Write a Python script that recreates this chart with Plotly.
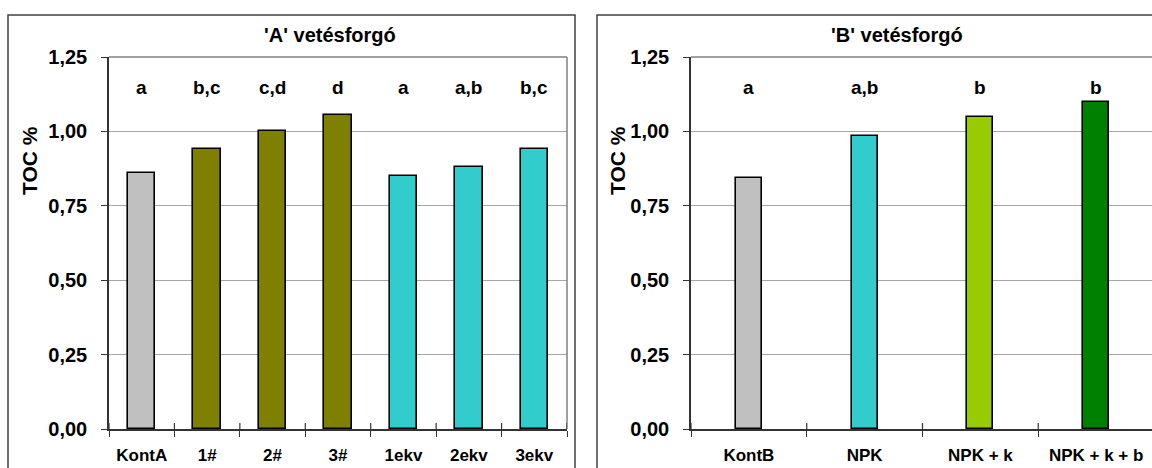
import plotly.graph_objects as go

# ---- data ----
cats_a = ["KontA", "1#", "2#", "3#", "1ekv", "2ekv", "3ekv"]
vals_a = [0.86, 0.94, 1.00, 1.055, 0.85, 0.88, 0.94]
letters_a = ["a", "b,c", "c,d", "d", "a", "a,b", "b,c"]

cats_b = ["KontB", "NPK", "NPK + k", "NPK + k + b"]
vals_b = [0.845, 0.985, 1.048, 1.10]
letters_b = ["a", "a,b", "b", "b"]

y_ticks = [0.0, 0.25, 0.5, 0.75, 1.0, 1.25]
y_ticktext = ["0,00", "0,25", "0,50", "0,75", "1,00", "1,25"]

titles = ["'A' vetésforgó", "'B' vetésforgó"]
y_title = "TOC %"

# ---- styles ----
colors_a = ["#C0C0C0", "#808000", "#808000", "#808000", "#33CCCC", "#33CCCC", "#33CCCC"]
colors_b = ["#C0C0C0", "#33CCCC", "#99CC00", "#008000"]

W, H = 1152, 468
FONT = "Liberation Sans, Arial, sans-serif"
DARK = "#333333"

def px_x(p):
    return p / W

def px_y(p):
    return 1 - p / H

fig = go.Figure()
fig.add_trace(go.Bar(x=cats_a, y=vals_a, width=0.42, xaxis="x", yaxis="y",
                     marker=dict(color=colors_a, line=dict(color="black", width=1.6)),
                     showlegend=False, hoverinfo="x+y"))
fig.add_trace(go.Bar(x=cats_b, y=vals_b, width=0.225, xaxis="x2", yaxis="y2",
                     marker=dict(color=colors_b, line=dict(color="black", width=1.6)),
                     showlegend=False, hoverinfo="x+y"))

Y_TOP, Y_BOT = 57, 429
XA0, XA1 = 109, 567
XB0 = 691
ydom = [px_y(Y_BOT), px_y(Y_TOP)]
xdom_a = [px_x(XA0), px_x(XA1)]
xdom_b = [px_x(XB0), 1.0]
range_b = [-0.5, 3.5 - 2 / 116]

tickfont_x = dict(family=FONT, size=17, color="black", weight="bold")
tickfont_y = dict(family=FONT, size=20, color="black", weight="bold")

def xaxis_cfg(dom, anchor, rng):
    return dict(domain=dom, anchor=anchor, type="category", tickson="boundaries",
                ticks="outside", ticklen=6, tickwidth=1.2, tickcolor=DARK,
                showline=True, linecolor=DARK, linewidth=1.5, showgrid=False,
                zeroline=False, tickfont=tickfont_x, ticklabelstandoff=10,
                fixedrange=True, range=rng, automargin=False)

def yaxis_cfg(anchor):
    return dict(domain=ydom, anchor=anchor, range=[0, 1.25], tickvals=y_ticks,
                ticktext=y_ticktext, ticks="outside", ticklen=6, tickwidth=1.2,
                tickcolor=DARK, showline=True, linecolor=DARK, linewidth=1.5,
                showgrid=True, gridcolor="#A6A6A6", gridwidth=1, zeroline=False,
                tickfont=tickfont_y, ticklabelstandoff=10, fixedrange=True,
                automargin=False)

fig.update_layout(
    width=W, height=H,
    margin=dict(l=0, r=0, t=0, b=0, autoexpand=False),
    paper_bgcolor="white", plot_bgcolor="white",
    bargap=0,
    xaxis=xaxis_cfg(xdom_a, "y", [-0.5, len(cats_a) - 0.5]),
    yaxis=yaxis_cfg("x"),
    xaxis2=xaxis_cfg(xdom_b, "y2", range_b),
    yaxis2=yaxis_cfg("x2"),
)

plot_h = Y_BOT - Y_TOP
border = dict(color="#808080", width=1.5)
shapes = [
    # outer chart boxes
    dict(type="rect", xref="paper", yref="paper", x0=px_x(8), x1=px_x(575),
         y0=-0.05, y1=px_y(15), line=dict(color="#404040", width=1.5)),
    dict(type="rect", xref="paper", yref="paper", x0=px_x(597), x1=1.05,
         y0=-0.05, y1=px_y(15), line=dict(color="#404040", width=1.5)),
    # plot area borders (top and right)
    dict(type="line", xref="paper", yref="paper", x0=px_x(XA0), x1=px_x(XA1),
         y0=px_y(Y_TOP), y1=px_y(Y_TOP), line=border),
    dict(type="line", xref="paper", yref="paper", x0=px_x(XA1), x1=px_x(XA1),
         y0=px_y(Y_BOT), y1=px_y(Y_TOP), line=border),
    dict(type="line", xref="paper", yref="paper", x0=px_x(XB0), x1=1.0,
         y0=px_y(Y_TOP), y1=px_y(Y_TOP), line=border),
]
# upper half of the crossing category-boundary ticks
for xr, yr, n in (("x", "y domain", len(cats_a)), ("x2", "y2 domain", len(cats_b))):
    for i in range(n + 1):
        shapes.append(dict(type="line", xref=xr, yref=yr, x0=i - 0.5, x1=i - 0.5,
                           y0=0, y1=6 / plot_h, line=dict(color=DARK, width=1.2)))
fig.update_layout(shapes=shapes)

annotations = []
bold = dict(family=FONT, color="black", weight="bold")
annotations.append(dict(text=titles[0], x=px_x(330), y=px_y(35), xref="paper", yref="paper",
                        showarrow=False, xanchor="center", yanchor="middle",
                        font=dict(size=20, **bold)))
annotations.append(dict(text=titles[1], x=px_x(897), y=px_y(35), xref="paper", yref="paper",
                        showarrow=False, xanchor="center", yanchor="middle",
                        font=dict(size=20, **bold)))
for xp in (29, 617):
    annotations.append(dict(text=y_title, x=px_x(xp), y=px_y(161), xref="paper", yref="paper",
                            showarrow=False, textangle=-90, xanchor="center", yanchor="middle",
                            font=dict(size=21, **bold)))
for c, l in zip(cats_a, letters_a):
    annotations.append(dict(text=l, x=c, y=1.146, xref="x", yref="y", showarrow=False,
                            yanchor="middle", font=dict(size=19, **bold)))
for c, l in zip(cats_b, letters_b):
    annotations.append(dict(text=l, x=c, y=1.146, xref="x2", yref="y2", showarrow=False,
                            yanchor="middle", font=dict(size=19, **bold)))
fig.update_layout(annotations=annotations)

fig.write_html("out.html")
